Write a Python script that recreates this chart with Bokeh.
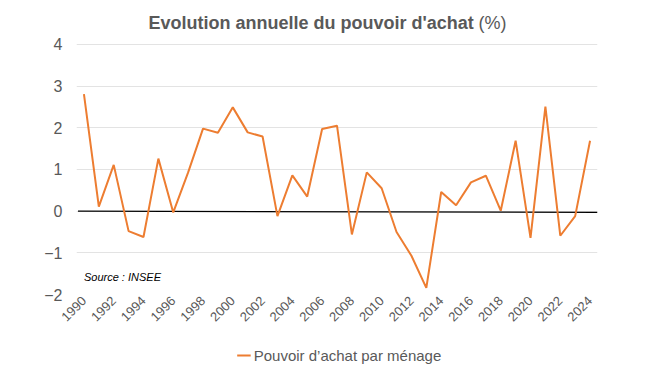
from bokeh.plotting import figure
from bokeh.layouts import column
from bokeh.models import ColumnDataSource, FixedTicker, Legend, LegendItem, Label, Range1d
from bokeh.embed import file_html
from bokeh.resources import INLINE
import math

years = list(range(1990, 2025))
pouvoir_achat = [2.81, 0.11, 1.11, -0.48, -0.62, 1.26, -0.03, 0.93, 1.98, 1.88,
                 2.49, 1.89, 1.79, -0.12, 0.86, 0.35, 1.97, 2.05, -0.56, 0.93,
                 0.55, -0.50, -1.07, -1.84, 0.46, 0.14, 0.69, 0.85, 0.01, 1.69,
                 -0.64, 2.51, -0.59, -0.12, 1.69]
y_ticks = [-2, -1, 0, 1, 2, 3, 4]
x_ticks = list(range(1990, 2025, 2))
zero_line_x = [1989.6, 2024.5]
zero_line_y = [0.0, -0.03]
series_name = "Pouvoir d’achat par ménage"

GRAY = "#595959"
ORANGE = "#ED7D31"
FONT = "Liberation Sans"

PX_PER_UNIT = 41.75
TOP_PAD = 36
FW = 521
FH = int(round(6 * PX_PER_UNIT + TOP_PAD))
y_top = 4 + TOP_PAD / PX_PER_UNIT

p = figure(frame_width=FW, frame_height=FH,
           output_backend="svg", toolbar_location=None,
           x_range=Range1d(1989.5, 2024.5), y_range=Range1d(-2, y_top),
           min_border_left=76, min_border_top=8, min_border_right=56, min_border_bottom=48)
p.outline_line_color = None
p.background_fill_color = "white"
p.border_fill_color = "white"

src = ColumnDataSource(dict(x=years, y=pouvoir_achat))
p.line(zero_line_x, zero_line_y, line_color="black", line_width=1.3)
r = p.line("x", "y", source=src, line_color=ORANGE, line_width=2)

p.xgrid.grid_line_color = None
p.ygrid.grid_line_color = "#e3e3e3"
p.ygrid.grid_line_width = 1
p.ygrid.ticker = FixedTicker(ticks=y_ticks)

p.yaxis.ticker = FixedTicker(ticks=y_ticks)
p.yaxis.axis_line_color = None
p.yaxis.major_tick_line_color = None
p.yaxis.major_tick_out = 0
p.yaxis.major_tick_in = 0
p.yaxis.minor_tick_line_color = None
p.yaxis.major_label_standoff = 14
p.yaxis.major_label_text_font = FONT
p.yaxis.major_label_text_font_size = "16px"
p.yaxis.major_label_text_color = GRAY

p.xaxis.ticker = FixedTicker(ticks=x_ticks)
p.xaxis.axis_line_color = None
p.xaxis.major_tick_line_color = None
p.xaxis.major_tick_out = 0
p.xaxis.major_tick_in = 0
p.xaxis.minor_tick_line_color = None
p.xaxis.major_label_orientation = math.pi / 4
p.xaxis.major_label_standoff = 4
p.xaxis.major_label_text_font = FONT
p.xaxis.major_label_text_font_size = "13px"
p.xaxis.major_label_text_color = GRAY

title_y = y_top - 15 / PX_PER_UNIT
p.add_layout(Label(x=72, y=title_y, x_units="screen",
                   text="Evolution annuelle du pouvoir d'achat", text_font=FONT,
                   text_font_style="bold", text_font_size="18px", text_color=GRAY,
                   text_align="left", text_baseline="alphabetic"))
p.add_layout(Label(x=402, y=title_y, x_units="screen",
                   text="(%)", text_font=FONT,
                   text_font_size="18px", text_color=GRAY,
                   text_align="left", text_baseline="alphabetic"))
p.add_layout(Label(x=1990, y=-1.58, text="Source : INSEE", text_font=FONT,
                   text_font_style="italic", text_font_size="11px", text_color="black",
                   text_align="left", text_baseline="middle"))

# legend strip below the chart (its line uses the same data, kept out of view)
p2 = figure(width=658, height=26, output_backend="svg", toolbar_location=None,
            min_border=0, x_axis_location=None, y_axis_location=None,
            x_range=Range1d(0, 1), y_range=Range1d(0, 1))
p2.outline_line_color = None
p2.xgrid.grid_line_color = None
p2.ygrid.grid_line_color = None
r2 = p2.line("x", "y", source=src, line_color=ORANGE, line_width=2)
legend = Legend(items=[LegendItem(label=series_name, renderers=[r2])],
                orientation="horizontal", location="center",
                label_text_font=FONT, label_text_font_size="15px", label_text_color=GRAY,
                glyph_width=14, glyph_height=20, label_height=20, label_standoff=3,
                border_line_color=None,
                background_fill_alpha=0, padding=0, margin=0)
p2.add_layout(legend, "center")

layout = column(p, p2, spacing=0)
open("out.html", "w").write(file_html(layout, INLINE))
